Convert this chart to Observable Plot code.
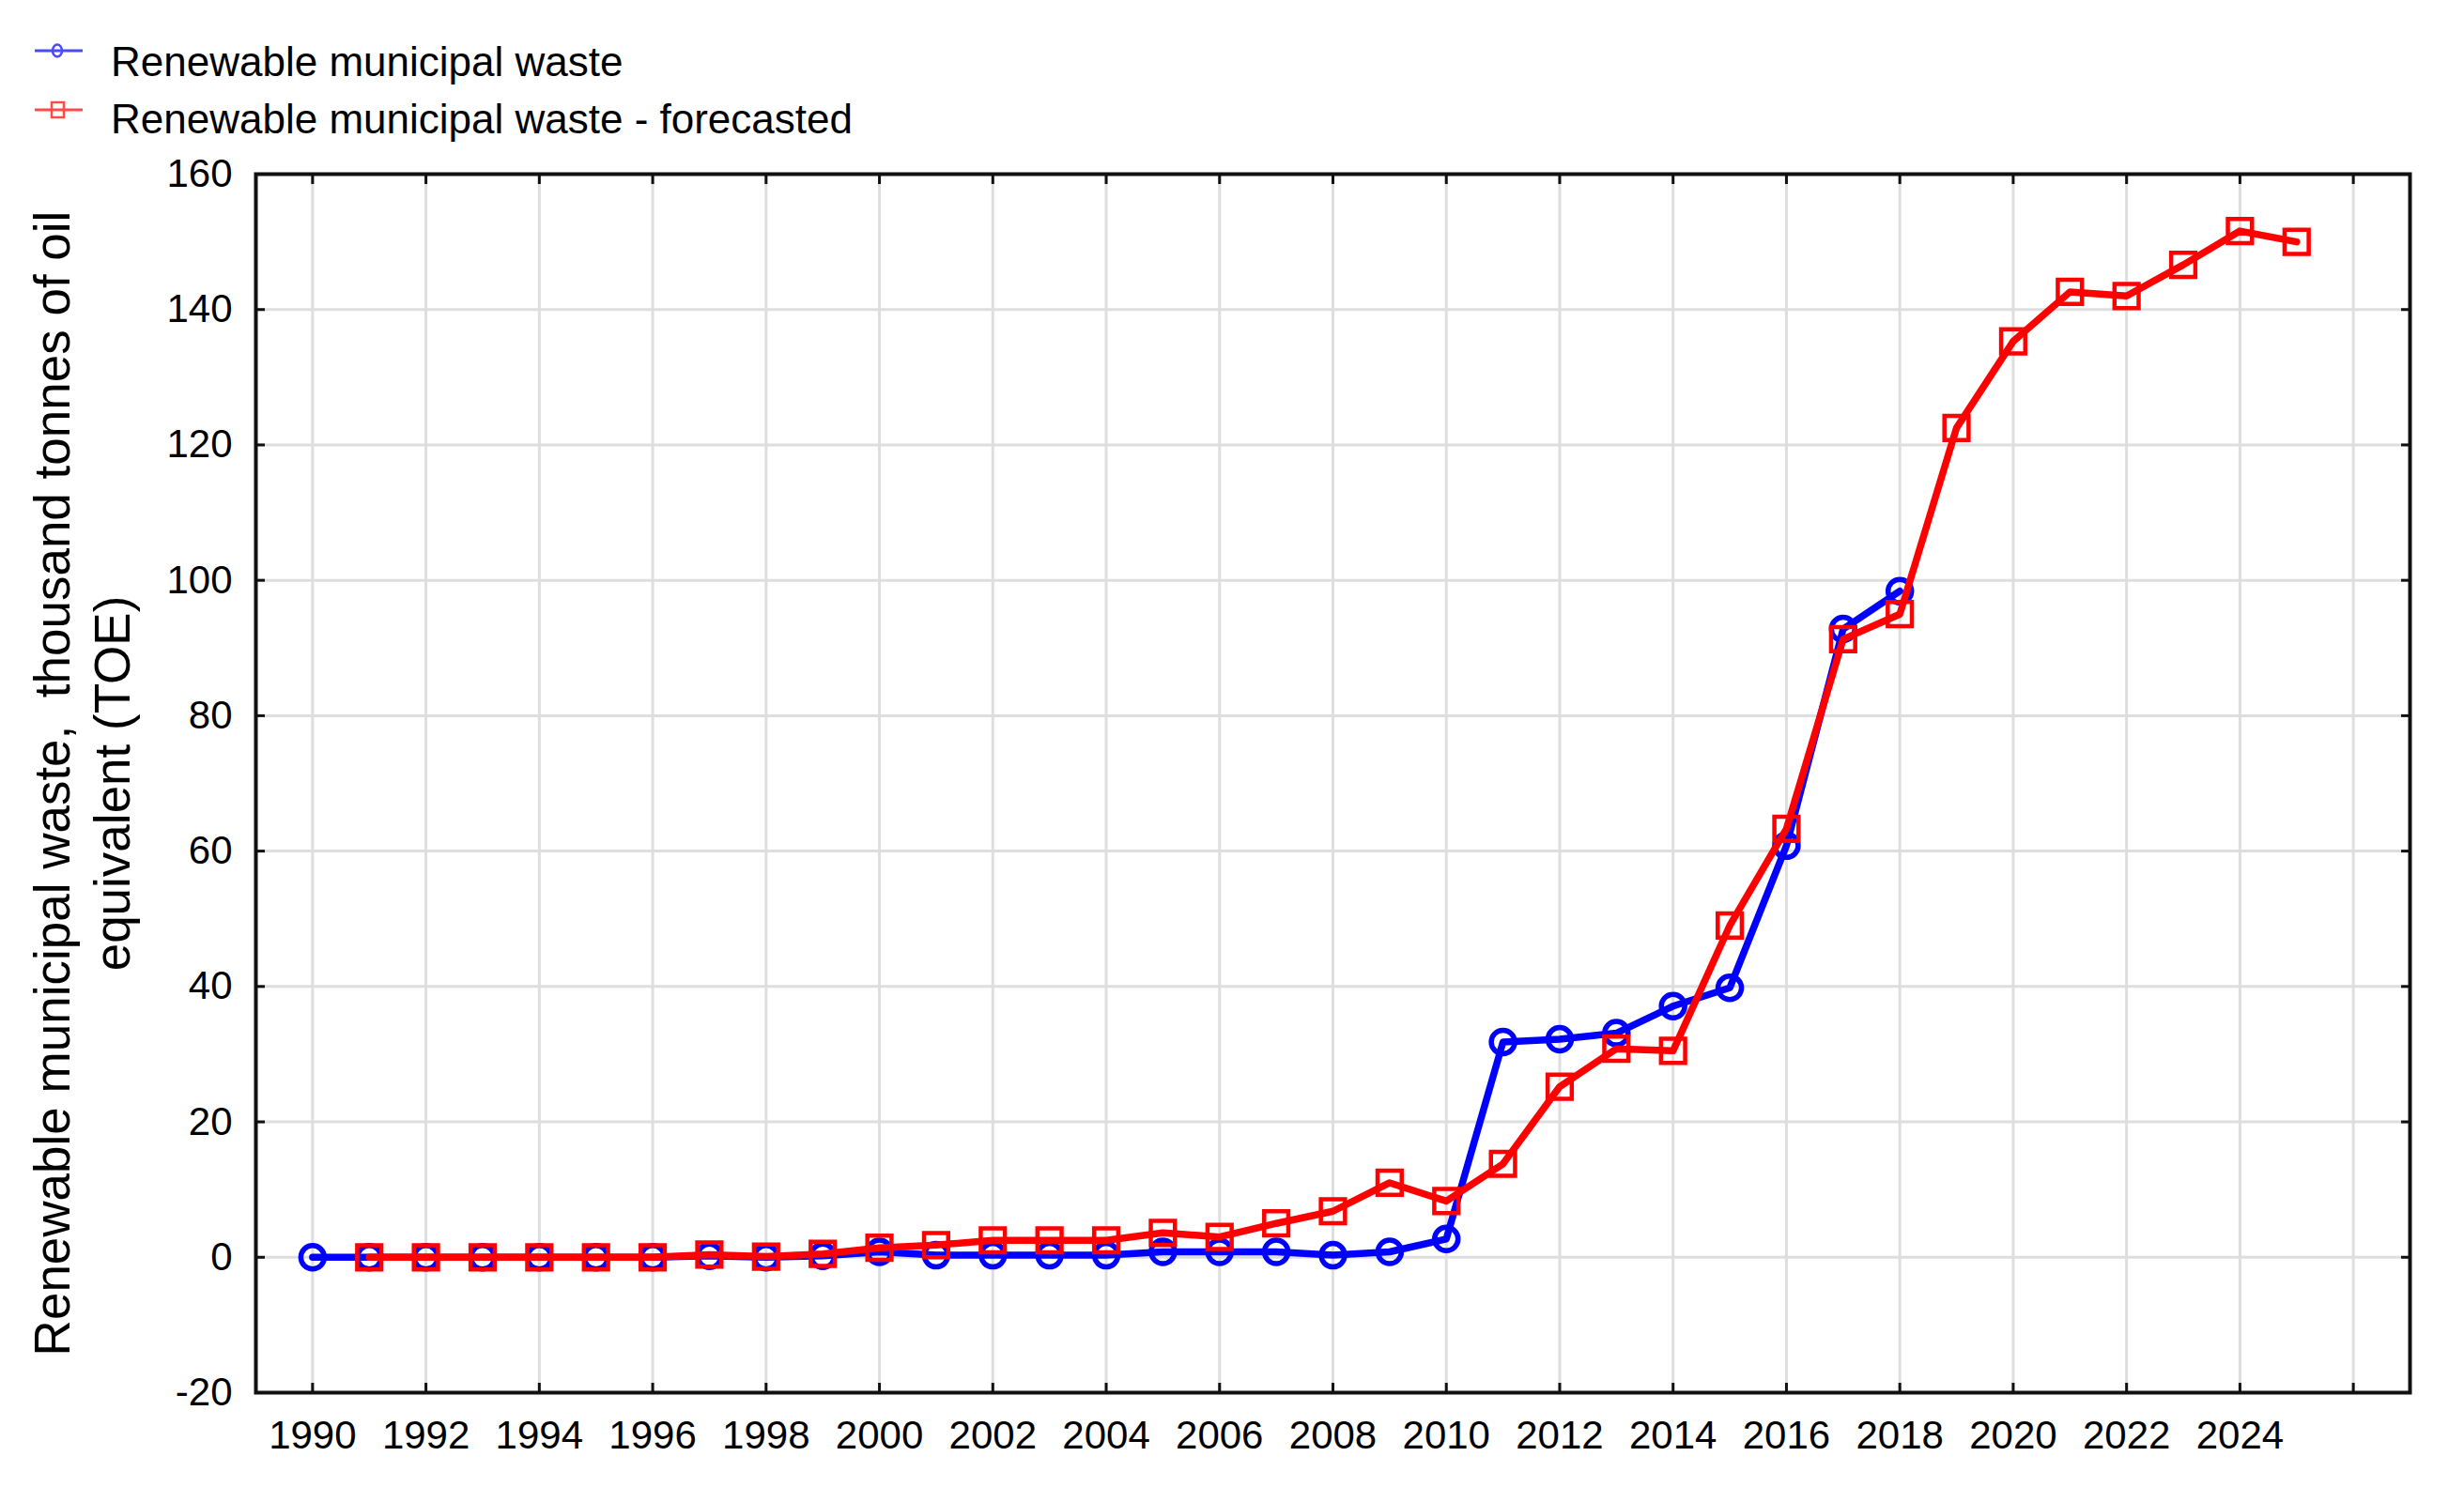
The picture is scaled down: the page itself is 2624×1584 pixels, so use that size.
<!DOCTYPE html>
<html>
<head>
<meta charset="utf-8">
<script src="https://cdn.jsdelivr.net/npm/d3@7"></script>
<script src="https://cdn.jsdelivr.net/npm/@observablehq/plot@0.6"></script>
<style>
  html, body { margin: 0; padding: 0; background: #ffffff; }
  svg { display: block; }
</style>
</head>
<body>
<svg id="legend" width="2624" height="162"></svg>
<div id="chart"></div>
<script>
// ---------- data ----------
const seriesNames = ["Renewable municipal waste", "Renewable municipal waste - forecasted"];
const seriesColors = ["#0000ff", "#ff0000"];

const actualYears = [1990, 1991, 1992, 1993, 1994, 1995, 1996, 1997, 1998, 1999,
                     2000, 2001, 2002, 2003, 2004, 2005, 2006, 2007, 2008, 2009,
                     2010, 2011, 2012, 2013, 2014, 2015, 2016, 2017, 2018];
const actualValues = [0, 0, 0, 0, 0, 0, 0, 0.2, 0, 0.2,
                      0.8, 0.3, 0.3, 0.3, 0.3, 0.8, 0.8, 0.8, 0.3, 0.8,
                      2.7, 31.8, 32.2, 33.1, 37.1, 39.8, 60.8, 92.8, 98.4];

const forecastYears = [1991, 1992, 1993, 1994, 1995, 1996, 1997, 1998, 1999,
                       2000, 2001, 2002, 2003, 2004, 2005, 2006, 2007, 2008, 2009,
                       2010, 2011, 2012, 2013, 2014, 2015, 2016, 2017, 2018, 2019,
                       2020, 2021, 2022, 2023, 2024, 2025];
const forecastValues = [0, 0, 0, 0, 0, 0, 0.4, 0.1, 0.5,
                        1.4, 1.8, 2.5, 2.5, 2.5, 3.6, 3.0, 5.0, 6.8, 11.0,
                        8.3, 13.8, 25.2, 30.8, 30.5, 49.0, 63.3, 91.3, 95.0, 122.5,
                        135.3, 142.6, 142.0, 146.6, 151.6, 150.0];

const xTickValues = [1990, 1992, 1994, 1996, 1998, 2000, 2002, 2004, 2006, 2008,
                     2010, 2012, 2014, 2016, 2018, 2020, 2022, 2024, 2026];
const xTickLabels = ["1990", "1992", "1994", "1996", "1998", "2000", "2002", "2004", "2006", "2008",
                     "2010", "2012", "2014", "2016", "2018", "2020", "2022", "2024"];
const yTickValues = [-20, 0, 20, 40, 60, 80, 100, 120, 140, 160];
const yTitleLines = ["Renewable municipal waste,\u00a0 thousand tonnes of oil", "equivalent (TOE)"];

// ---------- tables ----------
const actual = actualYears.map((year, i) => ({year, value: actualValues[i]}));
const forecast = forecastYears.map((year, i) => ({year, value: forecastValues[i]}));
const labelledTicks = xTickLabels.map(Number);

const FONT = "'Liberation Sans', Arial, Helvetica, sans-serif";

// ---------- legend ----------
const legend = d3.select("#legend");
const legendRows = [
  {name: seriesNames[0], color: "#4a4aff", symbol: "circle", y: 54, base: 81},
  {name: seriesNames[1], color: "#ff4a4a", symbol: "square", y: 117, base: 142}
];
legendRows.forEach(r => {
  const g = legend.append("g");
  g.append("line").attr("x1", 37).attr("x2", 88).attr("y1", r.y).attr("y2", r.y)
    .attr("stroke", r.color).attr("stroke-width", 3);
  if (r.symbol === "circle") {
    g.append("ellipse").attr("cx", 61).attr("cy", r.y).attr("rx", 5).attr("ry", 6.5)
      .attr("fill", "none").attr("stroke", r.color).attr("stroke-width", 2.5);
  } else {
    g.append("rect").attr("x", 55).attr("y", r.y - 8).attr("width", 13).attr("height", 16)
      .attr("fill", "none").attr("stroke", r.color).attr("stroke-width", 2.5);
  }
  g.append("text").attr("x", 118).attr("y", r.base)
    .attr("font-family", FONT).attr("font-size", 44).attr("fill", "#000")
    .text(r.name);
});

// ---------- chart ----------
const gridStyle = {stroke: "#dedede", strokeOpacity: 1, strokeWidth: 3};
const tickStyle = {tickSize: -10, fill: "none", stroke: "#111", strokeWidth: 3, label: null};

const chart = Plot.plot({
  width: 2624,
  height: 1422,
  marginTop: 23,
  marginBottom: 101,
  marginLeft: 272,
  marginRight: 58,
  style: {fontFamily: FONT, fontSize: "42px", color: "#000", background: "#fff"},
  x: {domain: [1989, 2027]},
  y: {domain: [-20, 160]},
  marks: [
    Plot.gridX(xTickValues, gridStyle),
    Plot.gridY(yTickValues, gridStyle),
    // inward ticks on all four sides
    Plot.axisX(xTickValues, {anchor: "bottom", ...tickStyle}),
    Plot.axisX(xTickValues, {anchor: "top", ...tickStyle}),
    Plot.axisY(yTickValues, {anchor: "left", ...tickStyle}),
    Plot.axisY(yTickValues, {anchor: "right", ...tickStyle}),
    // tick labels
    Plot.axisX(labelledTicks, {anchor: "bottom", tickSize: 0, tickPadding: 30, fontSize: 42,
      tickFormat: (d, i) => xTickLabels[i], label: null}),
    Plot.axisY(yTickValues, {anchor: "left", tickSize: 0, tickPadding: 25, fontSize: 42,
      tickFormat: d => String(d), label: null}),
    // y title
    Plot.text([yTitleLines[0]], {text: d => d, frameAnchor: "left", rotate: -90, dx: -199,
      textAnchor: "middle", lineAnchor: "bottom", fontSize: 53, fill: "#000"}),
    Plot.text([yTitleLines[1]], {text: d => d, frameAnchor: "left", rotate: -90, dx: -135,
      textAnchor: "middle", lineAnchor: "bottom", fontSize: 53, fill: "#000"}),
    // series
    Plot.line(actual, {x: "year", y: "value", stroke: seriesColors[0], strokeWidth: 7.5}),
    Plot.dot(actual, {x: "year", y: "value", r: 12.5, symbol: "circle", fill: "none",
      stroke: seriesColors[0], strokeWidth: 5.5}),
    Plot.line(forecast, {x: "year", y: "value", stroke: seriesColors[1], strokeWidth: 7.5}),
    Plot.dot(forecast, {x: "year", y: "value", r: 14.5, symbol: "square", fill: "none",
      stroke: seriesColors[1], strokeWidth: 4.5}),
    Plot.frame({stroke: "#111", strokeWidth: 4})
  ]
});
document.getElementById("chart").appendChild(chart);
</script>
</body>
</html>
